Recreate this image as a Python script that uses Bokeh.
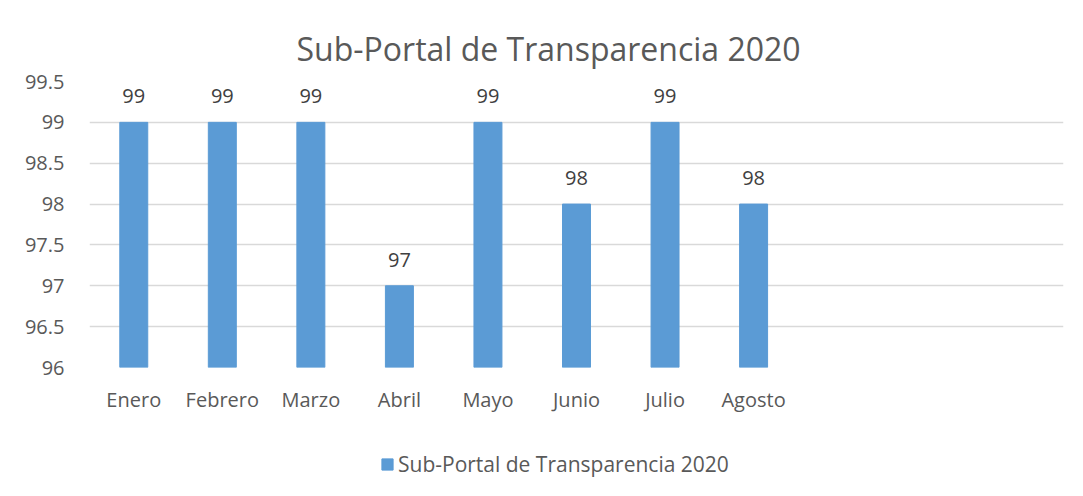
from bokeh.plotting import figure
from bokeh.layouts import column
from bokeh.models import FactorRange, Range1d, ColumnDataSource, Legend, LegendItem, FixedTicker, LabelSet
from bokeh.core.properties import value
from bokeh.embed import file_html
from bokeh.resources import INLINE

title_text = "Sub-Portal de Transparencia 2020"
series_name = "Sub-Portal de Transparencia 2020"
months = ["Enero", "Febrero", "Marzo", "Abril", "Mayo", "Junio", "Julio", "Agosto"]
values = [99, 99, 99, 97, 99, 98, 99, 98]
empty_slots = [" ", "  ", "   "]
y_ticks = [96, 96.5, 97, 97.5, 98, 98.5, 99, 99.5]
y_min, y_max = 96, 99.5

FONT = "Open Sans"
GRAY = "#595959"
BAR = "#5b9bd5"

src = ColumnDataSource(dict(x=months, top=values, lbl=[str(v) for v in values]))

p = figure(
    x_range=FactorRange(*(months + empty_slots)),
    y_range=Range1d(y_min, y_max),
    width=1083, height=427,
    frame_width=974, frame_height=286,
    min_border_left=89, min_border_right=20, min_border_top=81, min_border_bottom=60,
    output_backend="svg", toolbar_location=None,
)
p.title.text = title_text
p.title.align = "left"
p.title.offset = 207
p.title.text_font = FONT
p.title.text_font_size = "32px"
p.title.text_font_style = "normal"
p.title.text_color = GRAY
p.title.standoff = 23

r = p.vbar(x="x", top="top", bottom=y_min, width=0.316, source=src, color=BAR)

labels = LabelSet(x="x", y="top", text="lbl", source=src, text_align="center",
                  text_baseline="alphabetic", y_offset=19, text_font=value(FONT),
                  text_font_size="20px", text_color="#404040")
p.add_layout(labels)

p.yaxis.ticker = FixedTicker(ticks=y_ticks)
p.yaxis.major_label_overrides = {96: "96", 97: "97", 98: "98", 99: "99"}
for ax in (p.xaxis, p.yaxis):
    ax.axis_line_color = None
    ax.major_tick_line_color = None
    ax.minor_tick_line_color = None
    ax.major_label_text_font = FONT
    ax.major_label_text_font_size = "20px"
    ax.major_label_text_color = GRAY
p.yaxis.major_label_standoff = 19
p.xaxis.major_label_standoff = 12

p.xgrid.grid_line_color = None
p.ygrid.grid_line_color = "#d9d9d9"
p.ygrid.grid_line_width = 1.5
p.ygrid.ticker = FixedTicker(ticks=y_ticks)
p.outline_line_color = None

# legend strip below the chart (proxy bar kept outside the visible range)
p2 = figure(
    x_range=Range1d(0, 1), y_range=Range1d(0, 1),
    width=1083, height=69, frame_width=1083, frame_height=69,
    min_border=0, output_backend="svg", toolbar_location=None,
)
p2.axis.visible = False
p2.grid.visible = False
p2.outline_line_color = None
r2 = p2.vbar(x=[-10], top=[-10], bottom=-20, width=0.1, color=BAR)
legend = Legend(items=[LegendItem(label=series_name, renderers=[r2])],
                location=(380, 18), orientation="horizontal",
                padding=0, margin=0, spacing=0, label_standoff=4,
                glyph_width=14, glyph_height=14,
                label_text_font=FONT, label_text_font_size="21px",
                label_text_color=GRAY, border_line_color=None,
                background_fill_alpha=0)
p2.add_layout(legend, "center")

layout = column(p, p2, spacing=0)
open("out.html", "w").write(file_html(layout, INLINE))
